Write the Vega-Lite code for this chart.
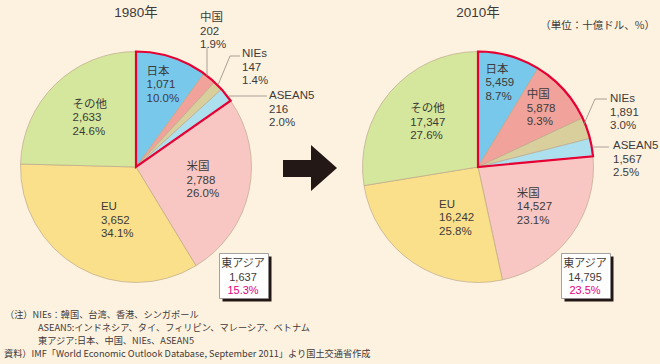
{
  "$schema": "https://vega.github.io/schema/vega-lite/v6.json",
  "width": 660,
  "height": 334,
  "autosize": {"type": "none"},
  "padding": {"left": 0, "top": 0, "right": 0, "bottom": 30},
  "background": "#fdf2e0",
  "config": {
    "view": {"stroke": null},
    "text": {"color": "#3e3a39", "fontSize": 11.5, "font": "Liberation Sans, Noto Sans CJK JP"}
  },
  "datasets": {
    "shares": [
      {"year": "1980年", "name": "日本", "value": 1071, "pct": "10.0%", "order": 1, "group": "東アジア"},
      {"year": "1980年", "name": "中国", "value": 202, "pct": "1.9%", "order": 2, "group": "東アジア"},
      {"year": "1980年", "name": "NIEs", "value": 147, "pct": "1.4%", "order": 3, "group": "東アジア"},
      {"year": "1980年", "name": "ASEAN5", "value": 216, "pct": "2.0%", "order": 4, "group": "東アジア"},
      {"year": "1980年", "name": "米国", "value": 2788, "pct": "26.0%", "order": 5, "group": "その他"},
      {"year": "1980年", "name": "EU", "value": 3652, "pct": "34.1%", "order": 6, "group": "その他"},
      {"year": "1980年", "name": "その他", "value": 2633, "pct": "24.6%", "order": 7, "group": "その他"},
      {"year": "2010年", "name": "日本", "value": 5459, "pct": "8.7%", "order": 1, "group": "東アジア"},
      {"year": "2010年", "name": "中国", "value": 5878, "pct": "9.3%", "order": 2, "group": "東アジア"},
      {"year": "2010年", "name": "NIEs", "value": 1891, "pct": "3.0%", "order": 3, "group": "東アジア"},
      {"year": "2010年", "name": "ASEAN5", "value": 1567, "pct": "2.5%", "order": 4, "group": "東アジア"},
      {"year": "2010年", "name": "米国", "value": 14527, "pct": "23.1%", "order": 5, "group": "その他"},
      {"year": "2010年", "name": "EU", "value": 16242, "pct": "25.8%", "order": 6, "group": "その他"},
      {"year": "2010年", "name": "その他", "value": 17347, "pct": "27.6%", "order": 7, "group": "その他"}
    ],
    "eastasia": [
      {"year": "1980年", "name": "東アジア", "value": 1637, "pct": "15.3%"},
      {"year": "2010年", "name": "東アジア", "value": 14795, "pct": "23.5%"}
    ]
  },
  "encoding": {
    "x": {"field": "year", "type": "nominal", "scale": {"type": "point", "domain": ["1980年", "2010年"], "range": [136, 478], "padding": 0}, "axis": null}
  },
  "resolve": {"scale": {"theta": "independent"}},
  "layer": [
    {
      "data": {"name": "shares"},
      "transform": [{"filter": "datum.year == '1980年'"}],
      "layer": [
        {
          "mark": {"type": "arc", "radius": 115.5, "stroke": "#bda98b", "strokeWidth": 0.7},
          "encoding": {
            "theta": {"field": "value", "type": "quantitative", "stack": true},
            "order": {"field": "order", "type": "quantitative"},
            "color": {"field": "name", "type": "nominal", "legend": null,
              "scale": {"domain": ["日本", "中国", "NIEs", "ASEAN5", "米国", "EU", "その他"],
                        "range": ["#78c8ec", "#f0a29b", "#d8cf9c", "#ace0ee", "#f8c7c3", "#fbe08c", "#d5e79c"]}}
          }
        },
        {
          "transform": [{"aggregate": [{"op": "sum", "field": "value", "as": "value"}], "groupby": ["year", "group"]}],
          "mark": {"type": "arc", "radius": 115.5, "stroke": "#e60033", "strokeWidth": 2.2, "fillOpacity": 0, "strokeJoin": "miter"},
          "encoding": {
            "theta": {"field": "value", "type": "quantitative", "stack": true},
            "order": {"field": "group", "type": "nominal", "sort": "descending"},
            "strokeOpacity": {"condition": {"test": "datum.group == '東アジア'", "value": 1}, "value": 0}
          }
        },
        {
          "encoding": {
            "theta": {"field": "value", "type": "quantitative", "stack": true},
            "order": {"field": "order", "type": "quantitative"}
          },
          "layer": [
            {"mark": {"type": "text", "radius": 86, "dx": -16, "dy": -13.5, "align": "left"},
             "encoding": {"text": {"condition": {"test": "datum.name == '日本'", "field": "name", "type": "nominal"}, "value": ""}}},
            {"mark": {"type": "text", "radius": 86, "dx": -16, "dy": 0, "align": "left"},
             "encoding": {"text": {"condition": {"test": "datum.name == '日本'", "field": "value", "type": "quantitative", "format": ","}, "value": ""}}},
            {"mark": {"type": "text", "radius": 86, "dx": -16, "dy": 13.5, "align": "left"},
             "encoding": {"text": {"condition": {"test": "datum.name == '日本'", "field": "pct", "type": "nominal"}, "value": ""}}},
            {"mark": {"type": "text", "radius": 68, "dx": -16, "dy": -13.5, "align": "left"},
             "encoding": {"text": {"condition": {"test": "datum.name == 'その他' || datum.name == '米国'", "field": "name", "type": "nominal"}, "value": ""}}},
            {"mark": {"type": "text", "radius": 68, "dx": -16, "dy": 0, "align": "left"},
             "encoding": {"text": {"condition": {"test": "datum.name == 'その他' || datum.name == '米国'", "field": "value", "type": "quantitative", "format": ","}, "value": ""}}},
            {"mark": {"type": "text", "radius": 68, "dx": -16, "dy": 13.5, "align": "left"},
             "encoding": {"text": {"condition": {"test": "datum.name == 'その他' || datum.name == '米国'", "field": "pct", "type": "nominal"}, "value": ""}}},
            {"mark": {"type": "text", "radius": 62, "dx": -4, "dy": -13.5, "align": "left"},
             "encoding": {"text": {"condition": {"test": "datum.name == 'EU'", "field": "name", "type": "nominal"}, "value": ""}}},
            {"mark": {"type": "text", "radius": 62, "dx": -4, "dy": 0, "align": "left"},
             "encoding": {"text": {"condition": {"test": "datum.name == 'EU'", "field": "value", "type": "quantitative", "format": ","}, "value": ""}}},
            {"mark": {"type": "text", "radius": 62, "dx": -4, "dy": 13.5, "align": "left"},
             "encoding": {"text": {"condition": {"test": "datum.name == 'EU'", "field": "pct", "type": "nominal"}, "value": ""}}}
          ]
        },
        {
          "transform": [{"filter": "datum.name == '中国'"}],
          "layer": [
            {"mark": {"type": "text", "align": "left", "dx": 64, "dy": -149}, "encoding": {"text": {"field": "name"}}},
            {"mark": {"type": "text", "align": "left", "dx": 64, "dy": -135.5}, "encoding": {"text": {"field": "value", "type": "quantitative", "format": ","}}},
            {"mark": {"type": "text", "align": "left", "dx": 64, "dy": -122}, "encoding": {"text": {"field": "pct"}}}
          ]
        },
        {
          "transform": [{"filter": "datum.name == 'NIEs'"}],
          "layer": [
            {"mark": {"type": "text", "align": "left", "dx": 106, "dy": -113}, "encoding": {"text": {"field": "name"}}},
            {"mark": {"type": "text", "align": "left", "dx": 106, "dy": -99.5}, "encoding": {"text": {"field": "value", "type": "quantitative", "format": ","}}},
            {"mark": {"type": "text", "align": "left", "dx": 106, "dy": -86}, "encoding": {"text": {"field": "pct"}}}
          ]
        },
        {
          "transform": [{"filter": "datum.name == 'ASEAN5'"}],
          "layer": [
            {"mark": {"type": "text", "align": "left", "dx": 133, "dy": -71}, "encoding": {"text": {"field": "name"}}},
            {"mark": {"type": "text", "align": "left", "dx": 133, "dy": -57.5}, "encoding": {"text": {"field": "value", "type": "quantitative", "format": ","}}},
            {"mark": {"type": "text", "align": "left", "dx": 133, "dy": -44}, "encoding": {"text": {"field": "pct"}}}
          ]
        }
      ]
    },
    {
      "data": {"name": "shares"},
      "transform": [{"filter": "datum.year == '2010年'"}],
      "layer": [
        {
          "mark": {"type": "arc", "radius": 115.5, "stroke": "#bda98b", "strokeWidth": 0.7},
          "encoding": {
            "theta": {"field": "value", "type": "quantitative", "stack": true},
            "order": {"field": "order", "type": "quantitative"},
            "color": {"field": "name", "type": "nominal", "legend": null,
              "scale": {"domain": ["日本", "中国", "NIEs", "ASEAN5", "米国", "EU", "その他"],
                        "range": ["#78c8ec", "#f0a29b", "#d8cf9c", "#ace0ee", "#f8c7c3", "#fbe08c", "#d5e79c"]}}
          }
        },
        {
          "transform": [{"aggregate": [{"op": "sum", "field": "value", "as": "value"}], "groupby": ["year", "group"]}],
          "mark": {"type": "arc", "radius": 115.5, "stroke": "#e60033", "strokeWidth": 2.2, "fillOpacity": 0, "strokeJoin": "miter"},
          "encoding": {
            "theta": {"field": "value", "type": "quantitative", "stack": true},
            "order": {"field": "group", "type": "nominal", "sort": "descending"},
            "strokeOpacity": {"condition": {"test": "datum.group == '東アジア'", "value": 1}, "value": 0}
          }
        },
        {
          "encoding": {
            "theta": {"field": "value", "type": "quantitative", "stack": true},
            "order": {"field": "order", "type": "quantitative"}
          },
          "layer": [
            {"mark": {"type": "text", "radius": 87, "dx": -16, "dy": -13.5, "align": "left"},
             "encoding": {"text": {"condition": {"test": "datum.name == '日本' || datum.name == '中国'", "field": "name", "type": "nominal"}, "value": ""}}},
            {"mark": {"type": "text", "radius": 87, "dx": -16, "dy": 0, "align": "left"},
             "encoding": {"text": {"condition": {"test": "datum.name == '日本' || datum.name == '中国'", "field": "value", "type": "quantitative", "format": ","}, "value": ""}}},
            {"mark": {"type": "text", "radius": 87, "dx": -16, "dy": 13.5, "align": "left"},
             "encoding": {"text": {"condition": {"test": "datum.name == '日本' || datum.name == '中国'", "field": "pct", "type": "nominal"}, "value": ""}}},
            {"mark": {"type": "text", "radius": 68, "dx": -16, "dy": -13.5, "align": "left"},
             "encoding": {"text": {"condition": {"test": "datum.name == 'その他' || datum.name == '米国'", "field": "name", "type": "nominal"}, "value": ""}}},
            {"mark": {"type": "text", "radius": 68, "dx": -16, "dy": 0, "align": "left"},
             "encoding": {"text": {"condition": {"test": "datum.name == 'その他' || datum.name == '米国'", "field": "value", "type": "quantitative", "format": ","}, "value": ""}}},
            {"mark": {"type": "text", "radius": 68, "dx": -16, "dy": 13.5, "align": "left"},
             "encoding": {"text": {"condition": {"test": "datum.name == 'その他' || datum.name == '米国'", "field": "pct", "type": "nominal"}, "value": ""}}},
            {"mark": {"type": "text", "radius": 62, "dx": -4, "dy": -13.5, "align": "left"},
             "encoding": {"text": {"condition": {"test": "datum.name == 'EU'", "field": "name", "type": "nominal"}, "value": ""}}},
            {"mark": {"type": "text", "radius": 62, "dx": -4, "dy": 0, "align": "left"},
             "encoding": {"text": {"condition": {"test": "datum.name == 'EU'", "field": "value", "type": "quantitative", "format": ","}, "value": ""}}},
            {"mark": {"type": "text", "radius": 62, "dx": -4, "dy": 13.5, "align": "left"},
             "encoding": {"text": {"condition": {"test": "datum.name == 'EU'", "field": "pct", "type": "nominal"}, "value": ""}}}
          ]
        },
        {
          "transform": [{"filter": "datum.name == 'NIEs'"}],
          "layer": [
            {"mark": {"type": "text", "align": "left", "dx": 132, "dy": -68}, "encoding": {"text": {"field": "name"}}},
            {"mark": {"type": "text", "align": "left", "dx": 132, "dy": -54.5}, "encoding": {"text": {"field": "value", "type": "quantitative", "format": ","}}},
            {"mark": {"type": "text", "align": "left", "dx": 132, "dy": -41}, "encoding": {"text": {"field": "pct"}}}
          ]
        },
        {
          "transform": [{"filter": "datum.name == 'ASEAN5'"}],
          "layer": [
            {"mark": {"type": "text", "align": "left", "dx": 135, "dy": -21}, "encoding": {"text": {"field": "name"}}},
            {"mark": {"type": "text", "align": "left", "dx": 135, "dy": -7.5}, "encoding": {"text": {"field": "value", "type": "quantitative", "format": ","}}},
            {"mark": {"type": "text", "align": "left", "dx": 135, "dy": 6}, "encoding": {"text": {"field": "pct"}}}
          ]
        }
      ]
    },
    {
      "data": {"name": "eastasia"},
      "transform": [{"filter": "datum.year == '1980年'"}],
      "mark": {"type": "point", "shape": "M71,-119V-91M104,-111H94L82,-82M93,-71H131", "size": 4, "filled": false, "stroke": "#948b80", "strokeWidth": 0.8, "opacity": 1}
    },
    {
      "data": {"name": "eastasia"},
      "transform": [{"filter": "datum.year == '2010年'"}],
      "mark": {"type": "point", "shape": "M129,-68H117L106,-43M114,-20H131", "size": 4, "filled": false, "stroke": "#948b80", "strokeWidth": 0.8, "opacity": 1}
    },
    {
      "data": {"name": "eastasia"},
      "mark": {"type": "point", "shape": "M86.5,89.5H135.5V134.5H86.5Z", "size": 4, "filled": true, "fill": "#231815", "strokeWidth": 0, "opacity": 1}
    },
    {
      "data": {"name": "eastasia"},
      "mark": {"type": "point", "shape": "M83.5,86.5H132.5V131.5H83.5Z", "size": 4, "filled": true, "fill": "#ffffff", "stroke": "#8c8c8c", "strokeWidth": 0.8, "opacity": 1}
    },
    {
      "data": {"name": "eastasia"},
      "layer": [
        {"mark": {"type": "text", "dx": 107, "dy": 96.5, "fontSize": 11}, "encoding": {"text": {"field": "name"}}},
        {"mark": {"type": "text", "dx": 107, "dy": 110.5, "fontSize": 11}, "encoding": {"text": {"field": "value", "type": "quantitative", "format": ","}}},
        {"mark": {"type": "text", "dx": 107, "dy": 124, "fontSize": 11, "color": "#e4007f"}, "encoding": {"text": {"field": "pct"}}},
        {"mark": {"type": "text", "dy": -154.5, "fontSize": 13.5}, "encoding": {"text": {"field": "year"}}}
      ]
    },
    {
      "data": {"name": "eastasia"},
      "transform": [{"filter": "datum.year == '1980年'"}],
      "layer": [
        {"mark": {"type": "point", "shape": "M147,-7H175V-22L201,1L175,24V10H147Z", "size": 4, "filled": true, "fill": "#231815", "strokeWidth": 0, "opacity": 1}},
        {"mark": {"type": "text", "align": "left", "baseline": "top", "dx": -131, "dy": 144, "fontSize": 9.2, "font": "Liberation Sans Narrow, Noto Sans CJK JP"},
         "encoding": {"text": {"value": "（注）NIEs：韓国、台湾、香港、シンガポール"}}},
        {"mark": {"type": "text", "align": "left", "baseline": "top", "dx": -98, "dy": 157, "fontSize": 9.2, "lineHeight": 13, "font": "Liberation Sans Narrow, Noto Sans CJK JP"},
         "encoding": {"text": {"value": ["ASEAN5:インドネシア、タイ、フィリピン、マレーシア、ベトナム", "東アジア:日本、中国、NIEs、ASEAN5"]}}},
        {"mark": {"type": "text", "align": "left", "baseline": "top", "dx": -132, "dy": 183, "fontSize": 9.2, "font": "Liberation Sans Narrow, Noto Sans CJK JP"},
         "encoding": {"text": {"value": "資料）IMF「World Economic Outlook Database, September 2011」より国土交通省作成"}}}
      ]
    },
    {
      "data": {"name": "eastasia"},
      "transform": [{"filter": "datum.year == '2010年'"}],
      "mark": {"type": "text", "align": "right", "dx": 177, "dy": -141, "fontSize": 10.5, "font": "Noto Sans CJK JP"},
      "encoding": {"text": {"value": "（単位：十億ドル、%）"}}
    }
  ]
}
